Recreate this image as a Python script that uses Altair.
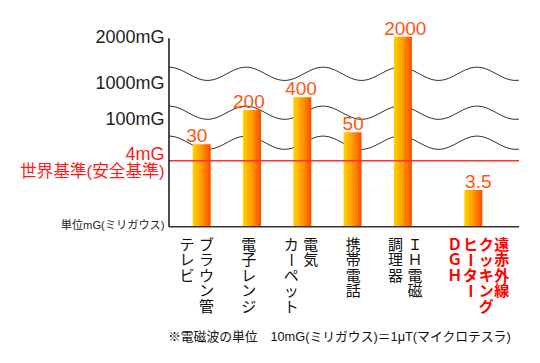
import altair as alt
import pandas as pd
import numpy as np

# ---------------- data ----------------
CATEGORIES = ["ブラウン管テレビ", "電子レンジ", "電気カーペット", "携帯電話", "IH電磁調理器", "遠赤外線クッキングヒーターDGH"]
VALUES = [30, 200, 400, 50, 2000, 3.5]
VALUE_LABELS = ["30", "200", "400", "50", "2000", "3.5"]
# category labels as written vertically, columns from right to left
LABEL_COLUMNS = [
    ["ブラウン管", "テレビ"],
    ["電子レンジ"],
    ["電気", "カーペット"],
    ["携帯電話"],
    ["ＩＨ電磁", "調理器"],
    ["遠赤外線", "クッキング", "ヒーター", "ＤＧＨ"],
]
HIGHLIGHT = [False, False, False, False, False, True]
TICK_VALUES = [2000, 1000, 100]
TICK_LABELS = ["2000mG", "1000mG", "100mG"]
STANDARD_VALUE = 4
STANDARD_LABELS = ["4mG", "世界基準(安全基準)"]
UNIT_LABEL = "単位mG(ミリガウス)"
FOOTNOTE = "※電磁波の単位　10mG(ミリガウス)＝1μT(マイクロテスラ)"

# ---------------- layout ----------------
W, H = 524, 340
SLOTS = [0, 1, 2, 3, 4, 5.4]
X_RANGE = [188.7, 470.3]
X_SCALE = alt.Scale(domain=[0, 5.4], range=X_RANGE, nice=False, zero=False)
# schematic (broken) value axis: piecewise scale
Y_KNOTS = [0, 3.5, 4, 30, 50, 100, 200, 400, 1000, 2000]
Y_PIX = [218.7, 182, 152.7, 136.3, 124.3, 111.3, 102, 89.3, 75.3, 28.7]
Y_SCALE = alt.Scale(domain=Y_KNOTS, range=Y_PIX, nice=False, zero=False)
AX_X0, AX_X1 = 161, 511
AX_TOP, AX_BASE = 30.3, 218.7
LAB_X = 156.5
LATIN = "Liberation Sans, Noto Sans CJK JP"
CJK = "Noto Sans CJK JP"

one = pd.DataFrame({"a": [0]})

bars_df = pd.DataFrame({"cat": CATEGORIES, "value": VALUES, "label": VALUE_LABELS, "slot": SLOTS})

xenc = alt.X("slot:Q", scale=X_SCALE, axis=None)

bars = alt.Chart(bars_df).mark_bar(
    size=18,
    color=alt.Gradient(
        gradient="linear",
        stops=[alt.GradientStop(color="#ffd400", offset=0),
               alt.GradientStop(color="#ff9a00", offset=0.5),
               alt.GradientStop(color="#ff4a00", offset=1)],
        x1=0, x2=1, y1=0, y2=0,
    ),
).encode(x=xenc, y=alt.Y("value:Q", scale=Y_SCALE, axis=None))

value_text = alt.Chart(bars_df).mark_text(
    font=LATIN, fontSize=19, color="#ff5510", baseline="alphabetic", dy=-2
).encode(x=xenc, y=alt.Y("value:Q", scale=Y_SCALE, axis=None), text="label:N")

# wavy break lines (decoration, pixel space)
wave_rows = []
for i, c in enumerate([65.8, 104.7, 134.7]):
    for x in np.arange(AX_X0, AX_X1 + 0.5, 1.0):
        wave_rows.append({"line": i, "px": float(x),
                          "py": float(c - 6.6 * np.cos(2 * np.pi * (x - AX_X0) / 77.0))})
waves = alt.Chart(pd.DataFrame(wave_rows)).mark_line(color="#333333", strokeWidth=1).encode(
    x=alt.X("px:Q", scale=None, axis=None),
    y=alt.Y("py:Q", scale=None, axis=None),
    detail="line:N",
)

y_axis = alt.Chart(one).mark_rule(color="#111111", strokeWidth=1.5).encode(
    x=alt.value(AX_X0), y=alt.value(AX_TOP), y2=alt.value(AX_BASE))
base_line = alt.Chart(one).mark_rule(color="#333333", strokeWidth=1.5).encode(
    x=alt.value(AX_X0), x2=alt.value(AX_X1), y=alt.value(AX_BASE))

std_df = pd.DataFrame({"v": [STANDARD_VALUE]})
std_line = alt.Chart(std_df).mark_rule(color="#ff3030", strokeWidth=1.5).encode(
    x=alt.value(AX_X0), x2=alt.value(AX_X1), y=alt.Y("v:Q", scale=Y_SCALE, axis=None))

tick_df = pd.DataFrame({"v": TICK_VALUES, "t": TICK_LABELS})
ticks = alt.Chart(tick_df).mark_text(
    font=LATIN, fontSize=18, color="#222222", align="right", baseline="middle", dy=1
).encode(x=alt.value(LAB_X), y=alt.Y("v:Q", scale=Y_SCALE, axis=None), text="t:N")

std_lab1 = alt.Chart(std_df.assign(t=STANDARD_LABELS[0])).mark_text(
    font=LATIN, fontSize=18, color="#ff1a1a", align="right", baseline="middle", dy=-6
).encode(x=alt.value(LAB_X), y=alt.Y("v:Q", scale=Y_SCALE, axis=None), text="t:N")
std_lab2 = alt.Chart(std_df.assign(t=STANDARD_LABELS[1])).mark_text(
    font=LATIN, fontSize=16.7, color="#ff1a1a", align="right", baseline="middle", dy=11
).encode(x=alt.value(LAB_X), y=alt.Y("v:Q", scale=Y_SCALE, axis=None), text="t:N")
unit_lab = alt.Chart(pd.DataFrame({"v": [0], "t": [UNIT_LABEL]})).mark_text(
    font=LATIN, fontSize=11.2, color="#222222", align="right", baseline="middle", dy=-1
).encode(x=alt.value(LAB_X), y=alt.Y("v:Q", scale=Y_SCALE, axis=None), text="t:N")

# vertical category labels, one text mark per character
step = (X_RANGE[1] - X_RANGE[0]) / (SLOTS[-1] - SLOTS[0])
char_rows = []
for cols, slot, hl in zip(LABEL_COLUMNS, SLOTS, HIGHLIGHT):
    cx = X_RANGE[0] + (slot - SLOTS[0]) * step
    pitch = 15.7 if len(cols) > 2 else 19.5
    n = len(cols)
    for i, col in enumerate(cols):
        off = ((n - 1) / 2 - i) * pitch
        for r, ch in enumerate(col):
            char_rows.append({"px": cx + off, "py": 236.5 + r * 15.5, "ch": ch,
                              "ang": 90 if ch == "ー" else 0, "hl": hl})
chars = pd.DataFrame(char_rows)
cat_norm = alt.Chart(chars[~chars.hl]).mark_text(
    font=CJK, fontSize=15, color="#111111", baseline="middle", align="center"
).encode(x=alt.X("px:Q", scale=None, axis=None), y=alt.Y("py:Q", scale=None, axis=None),
         text="ch:N", angle=alt.Angle("ang:Q", scale=None))
cat_hl = alt.Chart(chars[chars.hl]).mark_text(
    font=CJK, fontSize=15, fontWeight="bold", color="#ff0000", baseline="middle", align="center"
).encode(x=alt.X("px:Q", scale=None, axis=None), y=alt.Y("py:Q", scale=None, axis=None),
         text="ch:N", angle=alt.Angle("ang:Q", scale=None))

foot = alt.Chart(one).mark_text(
    font=LATIN, fontSize=12.8, color="#111111", align="left", baseline="middle"
).encode(x=alt.value(160), y=alt.value(329), text=alt.value(FOOTNOTE))

chart = alt.layer(
    waves, bars, std_line, y_axis, base_line, value_text, ticks, std_lab1, std_lab2,
    unit_lab, cat_norm, cat_hl, foot,
).resolve_scale(x="independent", y="independent").properties(
    width=W, height=H, autosize=alt.AutoSizeParams(type="none"), padding=0,
    background="white",
).configure_view(stroke=None)

chart.save("out.html", embed_options={"renderer": "svg", "actions": False})
